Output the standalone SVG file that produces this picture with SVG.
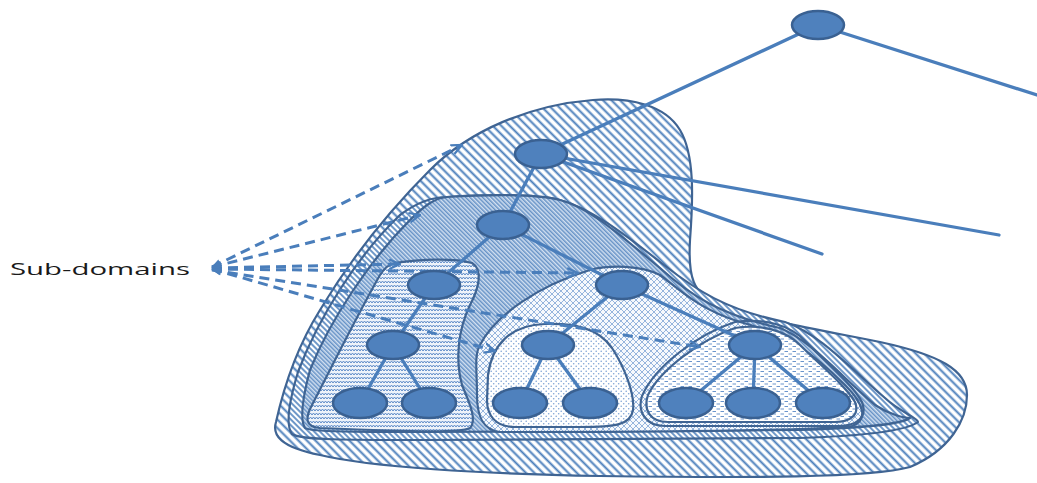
<svg xmlns="http://www.w3.org/2000/svg" width="1037" height="483" viewBox="0 0 1037 483">
<defs>
<style>
.reg{stroke:#3f6493;stroke-width:2.2;stroke-linejoin:round}
.edge{stroke:#4a7ebb;stroke-width:3.3;stroke-linecap:round;fill:none}
.dash{stroke:#4a7ebb;stroke-width:3;stroke-dasharray:10 6;fill:none;marker-end:url(#ah);marker-start:url(#as)}
.node{fill:#4f81bd;stroke:#3a6192;stroke-width:2.5}
.lbl{font-family:"Open Sans","DejaVu Sans",sans-serif;font-size:17px;fill:#1a1a1a}
</style>
<marker id="ah" viewBox="0 0 10 10" refX="9" refY="5" markerWidth="12" markerHeight="12" markerUnits="userSpaceOnUse" orient="auto"><path d="M0,1 L9,5 L0,9" fill="none" stroke="#4a7ebb" stroke-width="1.8"/></marker>
<marker id="as" viewBox="0 0 10 10" refX="9" refY="5" markerWidth="12" markerHeight="10" markerUnits="userSpaceOnUse" orient="auto-start-reverse"><path d="M0,1 L10,5 L0,9 Z" fill="#4a7ebb"/></marker>
<pattern id="pO" patternUnits="userSpaceOnUse" width="6" height="6" patternTransform="rotate(-45)"><rect width="6" height="6" fill="#fff"/><line x1="1.5" y1="0" x2="1.5" y2="6" stroke="#4a7ebb" stroke-width="2"/></pattern>
<pattern id="pL" patternUnits="userSpaceOnUse" width="4" height="4" patternTransform="rotate(-45)"><rect width="4" height="4" fill="#fff"/><line x1="1" y1="0" x2="1" y2="4" stroke="#4a7ebb" stroke-width="1.6"/></pattern>
<pattern id="pM" patternUnits="userSpaceOnUse" width="3" height="3" patternTransform="rotate(-45)"><rect width="3" height="3" fill="#d3e0f1"/><line x1="0.8" y1="0" x2="0.8" y2="3" stroke="#4a7ebb" stroke-width="1.2"/></pattern>
<pattern id="pZ" patternUnits="userSpaceOnUse" width="6" height="4"><rect width="6" height="4" fill="#eef3fa"/><polyline points="0,3 1.5,1 3,3 4.5,1 6,3" fill="none" stroke="#5f8cc8" stroke-width="1"/></pattern>
<pattern id="pX" patternUnits="userSpaceOnUse" width="6" height="6"><rect width="6" height="6" fill="#f6f9fd"/><path d="M0,0 L6,6 M6,0 L0,6" stroke="#7ea3d4" stroke-width="0.8"/></pattern>
<pattern id="pD" patternUnits="userSpaceOnUse" width="5" height="5"><rect width="5" height="5" fill="#fff"/><circle cx="1.2" cy="1.2" r="0.8" fill="#7ea3d4"/><circle cx="3.7" cy="3.7" r="0.8" fill="#7ea3d4"/></pattern>
<pattern id="pH" patternUnits="userSpaceOnUse" width="8" height="5"><rect width="8" height="5" fill="#fff"/><line x1="0.5" y1="1.5" x2="4" y2="1.5" stroke="#6b95cc" stroke-width="1"/><line x1="4.5" y1="4" x2="8" y2="4" stroke="#6b95cc" stroke-width="1"/></pattern>
</defs>
<rect width="1037" height="483" fill="#fff"/>

<g id="domain-outer">
<path class="reg" fill="url(#pO)" stroke-width="2.6" d="M593,100 C630,97 665,105 680,130 C695,155 693,200 690,240 C688,275 692,295 720,305 C760,320 820,330 880,342 C940,355 967,370 967,395 C967,420 950,450 910,467 C870,478 750,478 600,476 C480,474 370,467 320,455 C280,447 272,435 276,422 C282,395 295,350 320,310 C350,260 390,210 430,170 C470,130 530,105 593,100 Z"/>
</g>
<g id="domain-band">
<path class="reg" fill="url(#pL)" d="M447,197 C480,195 530,193 560,200 C590,208 622,232 664,265 C696,290 726,310 785,322 C820,334 850,368 885,398 C900,412 918,418 918,422 C905,432 860,436 800,438 L420,440 C350,440 300,440 292,434 C286,426 288,405 298,372 C318,318 358,255 400,215 C420,200 435,197 447,197 Z"/>
</g>
<g id="domain-n2">
<path class="reg" fill="url(#pM)" d="M447,197 C480,195 530,193 560,200 C590,208 620,235 660,268 C690,295 720,315 780,328 C810,340 840,375 875,405 C890,415 905,418 910,418 C900,425 860,428 800,430 L420,432 C360,432 310,432 305,428 C300,420 302,400 310,370 C330,320 370,260 410,220 C425,205 435,198 447,197 Z"/>
</g>
<g id="domain-n3">
<path class="reg" fill="url(#pZ)" d="M395,263 C420,259 455,258 472,263 C484,270 478,290 470,305 C458,330 455,360 462,385 C468,400 478,420 470,428 C460,433 420,432 320,428 C305,427 305,418 312,405 C330,370 360,310 380,275 C385,267 390,264 395,263 Z"/>
</g>
<g id="domain-n4">
<path class="reg" fill="url(#pX)" d="M480,345 C495,315 540,285 590,270 C610,265 640,265 660,275 C680,290 700,310 740,322 C790,335 815,355 845,385 C865,405 868,420 852,426 C800,431 600,432 500,432 C482,430 477,415 477,395 C477,370 474,355 480,345 Z"/>
</g>
<g id="domain-n6">
<path class="reg" fill="url(#pD)" d="M488,375 C492,345 510,325 545,324 C575,323 598,328 612,348 C625,368 635,395 633,410 C631,425 615,427 580,427 L515,427 C495,427 487,415 487,400 Z"/>
</g>
<g id="domain-n7">
<path class="reg" fill="none" stroke-width="1.8" d="M642,396 C655,366 698,334 735,322 C762,318 790,324 806,342 C826,362 852,384 862,402 C868,418 856,426 838,426 L665,426 C646,426 637,412 642,396 Z"/>
<path class="reg" fill="url(#pH)" d="M648,395 C660,370 700,340 735,328 C760,324 785,330 800,345 C820,365 845,385 855,402 C860,415 850,422 835,422 L668,422 C650,422 643,410 648,395 Z"/>
</g>

<g id="connectors">
<line class="edge" x1="818" y1="25" x2="541" y2="154"/>
<line class="edge" x1="818" y1="25" x2="1037" y2="95"/>
<line class="edge" x1="541" y1="154" x2="999" y2="235"/>
<line class="edge" x1="541" y1="154" x2="822" y2="254"/>
<line class="edge" x1="541" y1="154" x2="503" y2="225"/>
<line class="edge" x1="503" y1="225" x2="434" y2="285"/>
<line class="edge" x1="503" y1="225" x2="622" y2="285"/>
<line class="edge" x1="434" y1="285" x2="393" y2="345"/>
<line class="edge" x1="393" y1="345" x2="360" y2="403"/>
<line class="edge" x1="393" y1="345" x2="429" y2="403"/>
<line class="edge" x1="622" y1="285" x2="548" y2="345"/>
<line class="edge" x1="622" y1="285" x2="755" y2="345"/>
<line class="edge" x1="548" y1="345" x2="520" y2="403"/>
<line class="edge" x1="548" y1="345" x2="590" y2="403"/>
<line class="edge" x1="755" y1="345" x2="686" y2="403"/>
<line class="edge" x1="755" y1="345" x2="753" y2="403"/>
<line class="edge" x1="755" y1="345" x2="823" y2="403"/>
<line class="dash" x1="212" y1="267" x2="462" y2="145"/>
<line class="dash" x1="212" y1="267" x2="420" y2="215"/>
<line class="dash" x1="212" y1="268" x2="400" y2="264"/>
<line class="dash" x1="212" y1="269" x2="578" y2="273"/>
<line class="dash" x1="212" y1="269" x2="495" y2="351"/>
<line class="dash" x1="212" y1="270" x2="700" y2="347"/>
</g>

<g id="label"><text class="lbl" x="10" y="275" textLength="180" lengthAdjust="spacingAndGlyphs">Sub-domains</text></g>

<g id="n-root"><ellipse class="node" cx="818" cy="25" rx="26" ry="14"/></g>
<g id="n1"><ellipse class="node" cx="541" cy="154" rx="26" ry="14"/></g>
<g id="n2"><ellipse class="node" cx="503" cy="225" rx="26" ry="14"/></g>
<g id="n3"><ellipse class="node" cx="434" cy="285" rx="26" ry="14"/></g>
<g id="n4"><ellipse class="node" cx="622" cy="285" rx="26" ry="14"/></g>
<g id="n5"><ellipse class="node" cx="393" cy="345" rx="26" ry="14"/></g>
<g id="n6"><ellipse class="node" cx="548" cy="345" rx="26" ry="14"/></g>
<g id="n7"><ellipse class="node" cx="755" cy="345" rx="26" ry="14"/></g>
<g id="l1"><ellipse class="node" cx="360" cy="403" rx="27" ry="15"/></g>
<g id="l2"><ellipse class="node" cx="429" cy="403" rx="27" ry="15"/></g>
<g id="l3"><ellipse class="node" cx="520" cy="403" rx="27" ry="15"/></g>
<g id="l4"><ellipse class="node" cx="590" cy="403" rx="27" ry="15"/></g>
<g id="l5"><ellipse class="node" cx="686" cy="403" rx="27" ry="15"/></g>
<g id="l6"><ellipse class="node" cx="753" cy="403" rx="27" ry="15"/></g>
<g id="l7"><ellipse class="node" cx="823" cy="403" rx="27" ry="15"/></g>
</svg>
